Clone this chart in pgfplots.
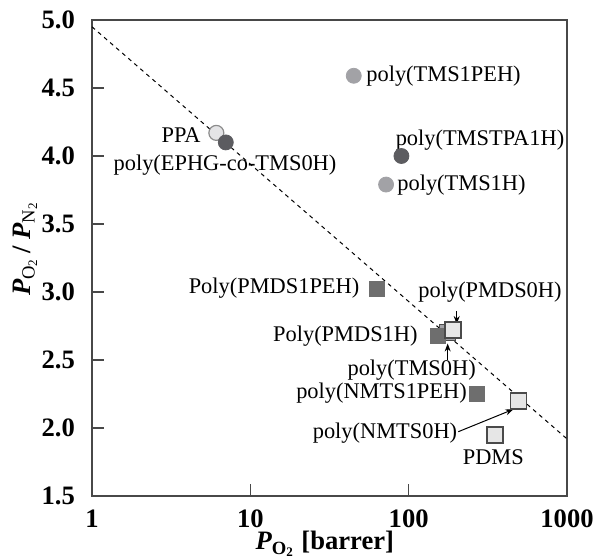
\documentclass[border=0pt]{standalone}
\usepackage{fontspec}
\setmainfont{Liberation Serif}
\usepackage{pgfplots}
\pgfplotsset{compat=1.18}
\usetikzlibrary{arrows.meta}
\definecolor{axgray}{HTML}{484848}
\definecolor{lightc}{HTML}{E4E4E6}
\definecolor{lightce}{HTML}{8C8C8C}
\definecolor{darkc}{HTML}{5C5C60}
\definecolor{midc}{HTML}{A2A2A6}
\definecolor{darks}{HTML}{6E6E6E}
\definecolor{lights}{HTML}{E6E6E6}
\definecolor{lightse}{HTML}{4A4A4A}
\begin{document}
\begin{tikzpicture}
\begin{axis}[
  name=ax,
  at={(0,0)}, anchor=south west,
  scale only axis, width=237.5pt, height=238pt,
  xmode=log, log basis x=10,
  xmin=1, xmax=1000, ymin=1.5, ymax=5.0,
  xtick={1,10,100,1000}, xticklabels={1,10,100,1000},
  ytick={1.5,2.0,2.5,3.0,3.5,4.0,4.5,5.0},
  yticklabels={1.5,2.0,2.5,3.0,3.5,4.0,4.5,5.0},
  tick align=inside, xtick pos=bottom, ytick pos=left,
  major tick length=6pt, minor tick length=3.5pt,
  tick style={draw=axgray, line width=0.8pt},
  axis line style={draw=axgray, line width=1pt},
  tick label style={font=\fontsize{13.3}{15}\selectfont\bfseries},
  yticklabel style={xshift=-5pt},
  xticklabel style={yshift=-3.5pt},
  xlabel={\bfseries\itshape P\textsubscript{\upshape O\textsubscript{2}}\upshape\ [barrer]},
  xlabel style={font=\fontsize{13.3}{15}\selectfont\bfseries, at={(axis description cs:0.49,0)}, anchor=center, yshift=-24pt},
  ylabel={{\bfseries\itshape P}\textsubscript{O\textsubscript{2}}\,{\bfseries /} {\bfseries\itshape P}\textsubscript{N\textsubscript{2}}},
  ylabel style={font=\fontsize{13.3}{15}\selectfont, at={(axis description cs:0,0.52)}, anchor=center, yshift=33.5pt},
  clip=false,
]
\addplot[black, line width=0.5pt, dash pattern=on 2pt off 2pt] coordinates {(1,4.95) (1000,1.92)};
% circles
\addplot[only marks, mark=*, mark size=3.75pt, mark options={fill=lightc, draw=lightce, line width=0.6pt}] coordinates {(6.1,4.17)};
\addplot[only marks, mark=*, mark size=3.75pt, mark options={fill=darkc, draw=darkc}] coordinates {(7.0,4.10) (90,4.00)};
\addplot[only marks, mark=*, mark size=3.75pt, mark options={fill=midc, draw=midc}] coordinates {(45,4.59) (72,3.79)};
% squares
\addplot[only marks, mark=square*, mark size=4pt, mark options={fill=midc, draw=lightse, line width=0.6pt}] coordinates {(175,2.70)};
\addplot[only marks, mark=square*, mark size=3.75pt, mark options={fill=darks, draw=darks}] coordinates {(63,3.02) (152,2.68) (271,2.25)};
\addplot[only marks, mark=square*, mark size=4pt, mark options={fill=lights, draw=lightse, line width=0.75pt}] coordinates {(191,2.72) (493,2.20) (351,1.95)};
% labels
\begin{scope}[every node/.style={font=\fontsize{11.2}{13}\selectfont, inner sep=1pt}]
\node[anchor=east] at (rel axis cs:0.2337,0.7584) {PPA};
\node at (rel axis cs:0.280,0.6954) {poly(EPHG-co-TMS0H)};
\node[anchor=west] at (rel axis cs:0.5726,0.8824) {poly(TMS1PEH)};
\node at (rel axis cs:0.8168,0.7479) {poly(TMSTPA1H)};
\node[anchor=west] at (rel axis cs:0.6379,0.6534) {poly(TMS1H)};
\node[anchor=east] at (rel axis cs:0.5678,0.4363) {Poly(PMDS1PEH)};
\node[anchor=east] at (rel axis cs:0.6905,0.3361) {Poly(PMDS1H)};
\node at (rel axis cs:0.8379,0.4292) {poly(PMDS0H)};
\node at (rel axis cs:0.673,0.2647) {poly(TMS0H)};
\node at (rel axis cs:0.6095,0.2157) {poly(NMTS1PEH)};
\node at (rel axis cs:0.6168,0.1324) {poly(NMTS0H)};
\node at (rel axis cs:0.8449,0.0826) {PDMS};
\end{scope}
% arrows
\draw[-{Stealth[length=4pt,width=3pt]}, line width=0.5pt] (rel axis cs:0.7678,0.3880) -- (rel axis cs:0.7678,0.3613);
\draw[-{Stealth[length=4pt,width=3pt]}, line width=0.5pt] (rel axis cs:0.7488,0.2857) -- (rel axis cs:0.7488,0.3204);
\draw[-{Stealth[length=4pt,width=3pt]}, line width=0.5pt] (rel axis cs:0.7712,0.1351) -- (rel axis cs:0.887,0.1821);
\end{axis}
\pgfresetboundingbox
\path[use as bounding box] (-46pt,-31.5pt) rectangle (251pt,248pt);
\end{tikzpicture}
\end{document}
